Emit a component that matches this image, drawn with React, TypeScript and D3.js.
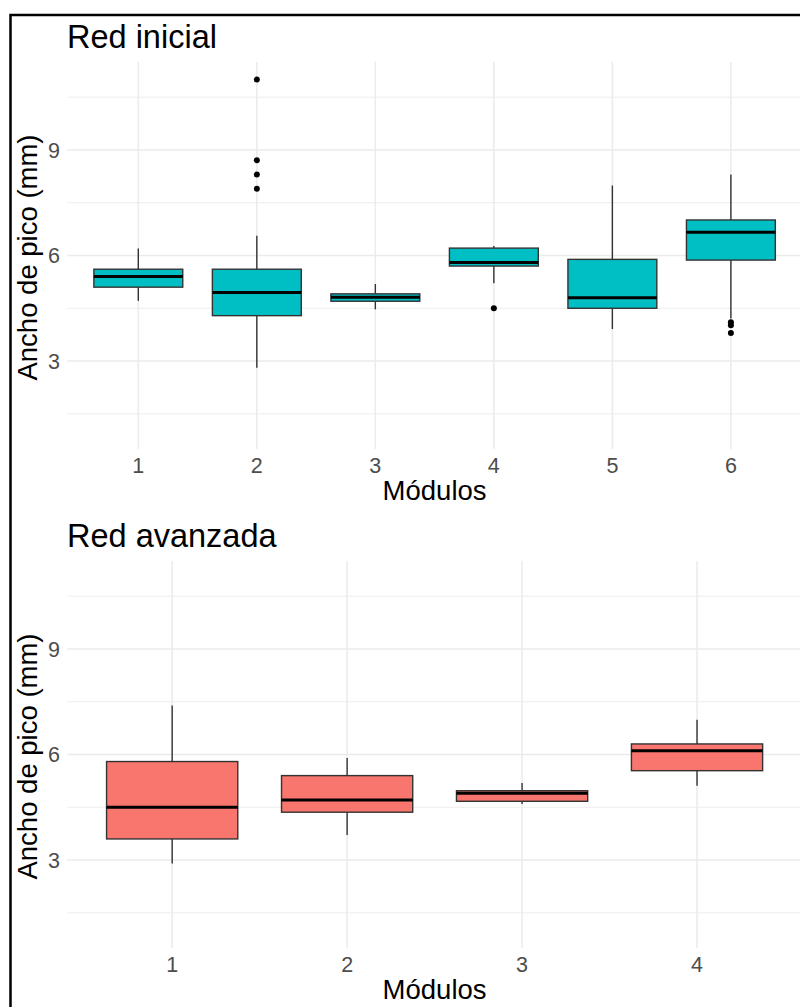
import React from "react";
import * as d3 from "d3";

// Red inicial
const modsInicial = ["1", "2", "3", "4", "5", "6"];
const loInicial = [4.71, 2.81, 4.47, 5.21, 3.91, 4.21];
const q1Inicial = [5.1, 4.29, 4.7, 5.7, 4.5, 5.87];
const medInicial = [5.4, 4.95, 4.81, 5.8, 4.8, 6.66];
const q3Inicial = [5.61, 5.61, 4.91, 6.21, 5.89, 7.01];
const hiInicial = [6.2, 6.56, 5.19, 6.27, 7.99, 8.3];
const outInicial: [string, number][] = [
  ["2", 11.0], ["2", 8.71], ["2", 8.3], ["2", 7.9],
  ["4", 4.5],
  ["6", 4.1], ["6", 4.02], ["6", 3.8],
];

// Red avanzada
const modsAvanzada = ["1", "2", "3", "4"];
const loAvanzada = [2.9, 3.71, 4.59, 5.11];
const q1Avanzada = [3.6, 4.36, 4.67, 5.54];
const medAvanzada = [4.5, 4.71, 4.9, 6.11];
const q3Avanzada = [5.8, 5.4, 4.97, 6.3];
const hiAvanzada = [7.39, 5.9, 5.19, 6.99];
const outAvanzada: [string, number][] = [];

const majorTicks = [3, 6, 9];
const minorTicks = [1.5, 4.5, 7.5, 10.5];
const yDomain = [0.5, 11.5];

const FONT = "'Liberation Sans', Arial, sans-serif";

function Panel({ top, title, mods, lo, q1, med, q3, hi, outliers, fill }: any) {
  const left = 67.2;
  const right = 802;
  const pTop = top + 47;
  const pBottom = top + 434;

  const x = d3.scaleBand().domain(mods).range([left, right]).paddingInner(0.25).paddingOuter(0.225);
  const y = d3.scaleLinear().domain(yDomain).range([pBottom, pTop]);
  const bw = x.bandwidth();
  const cx = (m: string) => (x(m) as number) + bw / 2;

  return (
    <g>
      <text x={67} y={top + 33} fontFamily={FONT} fontSize={32.5} fill="#000">{title}</text>
      {/* grid */}
      {minorTicks.map((t) => (
        <line key={"mi" + t} x1={left} x2={right} y1={y(t)} y2={y(t)} stroke="#EBEBEB" strokeWidth={0.9} />
      ))}
      {majorTicks.map((t) => (
        <line key={"ma" + t} x1={left} x2={right} y1={y(t)} y2={y(t)} stroke="#EBEBEB" strokeWidth={1.5} />
      ))}
      {mods.map((m: string) => (
        <line key={"v" + m} x1={cx(m)} x2={cx(m)} y1={pTop} y2={pBottom} stroke="#EBEBEB" strokeWidth={1.5} />
      ))}
      {/* boxes */}
      {mods.map((m: string, i: number) => (
        <g key={"b" + m}>
          <line x1={cx(m)} x2={cx(m)} y1={y(hi[i])} y2={y(q3[i])} stroke="#333333" strokeWidth={1.4} />
          <line x1={cx(m)} x2={cx(m)} y1={y(q1[i])} y2={y(lo[i])} stroke="#333333" strokeWidth={1.4} />
          <rect x={x(m)} y={y(q3[i])} width={bw} height={y(q1[i]) - y(q3[i])} fill={fill} stroke="#333333" strokeWidth={1.4} />
          <line x1={x(m)} x2={(x(m) as number) + bw} y1={y(med[i])} y2={y(med[i])} stroke="#000" strokeWidth={3} />
        </g>
      ))}
      {outliers.map(([m, v]: [string, number], i: number) => (
        <circle key={"o" + i} cx={cx(m)} cy={y(v)} r={3} fill="#000" />
      ))}
      {/* axes text */}
      {majorTicks.map((t) => (
        <text key={"yl" + t} x={60} y={y(t)} dy="0.36em" textAnchor="end" fontFamily={FONT} fontSize={21.5} fill="#4D4D4D">{t}</text>
      ))}
      {mods.map((m: string) => (
        <text key={"xl" + m} x={cx(m)} y={pBottom + 24} textAnchor="middle" fontFamily={FONT} fontSize={21.5} fill="#4D4D4D">{m}</text>
      ))}
      <text x={(left + right) / 2} y={pBottom + 51} textAnchor="middle" fontFamily={FONT} fontSize={27.5} fill="#000">Módulos</text>
      <text transform={`translate(37,${(pTop + pBottom) / 2 + 2}) rotate(-90)`} textAnchor="middle" fontFamily={FONT} fontSize={27.5} fill="#000">Ancho de pico (mm)</text>
    </g>
  );
}

export default function App() {
  return (
    <svg width={800} height={1007} style={{ position: "absolute", left: 0, top: 0, background: "#fff" }}>
      <rect x={0} y={0} width={800} height={1007} fill="#fff" />
      <Panel top={15} title="Red inicial" mods={modsInicial} lo={loInicial} q1={q1Inicial} med={medInicial} q3={q3Inicial} hi={hiInicial} outliers={outInicial} fill="#00BFC4" />
      <Panel top={514} title="Red avanzada" mods={modsAvanzada} lo={loAvanzada} q1={q1Avanzada} med={medAvanzada} q3={q3Avanzada} hi={hiAvanzada} outliers={outAvanzada} fill="#F8766D" />
      <rect x={10.5} y={15} width={800} height={1000} fill="none" stroke="#000" strokeWidth={2.5} />
    </svg>
  );
}
